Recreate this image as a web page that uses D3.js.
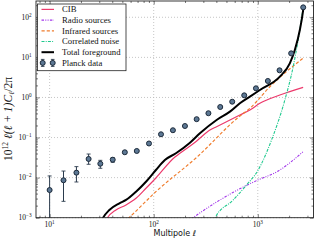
<!DOCTYPE html>
<html>
<head>
<meta charset="utf-8">
<script src="https://cdn.jsdelivr.net/npm/d3@7"></script>
<style>
body { margin: 0; background: #fff; }
svg text { font-family: "Liberation Serif", "DejaVu Serif", serif; fill: #111; }
</style>
</head>
<body>
<div id="chart"></div>
<script>
// planck band powers
var planckEll = [10, 13.6, 18.1, 23.7, 30.7, 40.4, 52.8, 68.8, 90.1, 117.5, 153, 199.6, 258.6, 335.5, 435.8, 568, 741, 960, 1250, 1618, 2093, 2731];
var planckVal = [0.0049, 0.0086, 0.0133, 0.0292, 0.0222, 0.028, 0.0429, 0.0462, 0.071, 0.1205, 0.152, 0.194, 0.287, 0.404, 0.578, 0.783, 1.13, 1.69, 2.58, 4.76, 12.6, 177];
var planckLo = [0.0001, 0.00256, 0.00778, 0.0215, 0.0171, 0.0241, 0.040, 0.043, 0.067, 0.115, 0.146, 0.187, 0.278, 0.393, 0.565, 0.767, 1.11, 1.66, 2.54, 4.69, 12.4, 174];
var planckHi = [0.011, 0.0146, 0.0188, 0.0388, 0.027, 0.0314, 0.046, 0.049, 0.075, 0.126, 0.158, 0.201, 0.296, 0.415, 0.591, 0.799, 1.15, 1.72, 2.62, 4.83, 12.8, 180];

// model curves
var totalEll = [31.2, 32.4, 37.5, 46.8, 54.2, 67.6, 84.3, 105, 128, 163.5, 223, 278, 402, 540, 673, 840, 1047, 1629, 2031, 2269, 2535, 2728, 2750];
var totalVal = [0.0008, 0.00097, 0.00156, 0.00229, 0.00277, 0.00446, 0.0079, 0.0155, 0.0275, 0.0405, 0.0743, 0.1276, 0.274, 0.442, 0.714, 1.045, 1.535, 3.30, 7.11, 15.3, 48.2, 152, 180];

var cibEll = [34.1, 35.6, 43.4, 54.2, 67.6, 84.3, 105, 160, 178.6, 258.8, 347, 402, 540, 673, 840, 1047, 1629, 2728];
var cibVal = [0.0008, 0.00097, 0.00156, 0.00208, 0.00305, 0.00542, 0.0098, 0.0327, 0.0405, 0.082, 0.154, 0.186, 0.274, 0.365, 0.486, 0.714, 1.15, 1.79];

var radioEll = [220, 289, 581, 1009, 1514, 2728];
var radioVal = [0.00086, 0.00141, 0.0043, 0.0088, 0.0138, 0.0444];

var irEll = [51.9, 58.3, 105, 258.8, 673, 840, 1306, 2786];
var irVal = [0.00078, 0.00102, 0.00446, 0.0321, 0.344, 0.537, 1.85, 10.0];

var noiseEll = [374, 387, 581, 780, 1009, 1356, 1820, 2188, 2444, 2710];
var noiseVal = [0.00079, 0.00097, 0.00277, 0.00655, 0.0155, 0.0869, 0.865, 5.85, 27.2, 152];

var xMajor = [10, 100, 1000];
var xMajorExp = ["1", "2", "3"];
var yMajor = [1e-3, 1e-2, 1e-1, 1, 10, 100];
var yMajorExp = ["\u22123", "\u22122", "\u22121", "0", "1", "2"];

var legendNames = ["CIB", "Radio sources", "Infrared sources", "Correlated noise", "Total foreground", "Planck data"];

var width = 316, height = 240;
var pLeft = 36, pRight = 313.5, pTop = 1, pBottom = 217.7;

var svg = d3.select("#chart").append("svg")
    .attr("width", width).attr("height", height);

var xChart = d3.scaleLog().domain([7.4, 3430]).range([pLeft, pRight]);
var yChart = d3.scaleLog().domain([1e-3, 255]).range([pBottom, pTop]);

svg.append("clipPath").attr("id", "clip")
  .append("rect").attr("x", pLeft).attr("y", pTop)
  .attr("width", pRight - pLeft).attr("height", pBottom - pTop);

// grid
var grid = svg.append("g");
xMajor.forEach(function(v) {
  grid.append("line").attr("x1", xChart(v)).attr("x2", xChart(v))
    .attr("y1", pTop).attr("y2", pBottom)
    .attr("stroke", "#b8b8b8").attr("stroke-width", 0.8).attr("stroke-dasharray", "1,2");
});
yMajor.forEach(function(v) {
  grid.append("line").attr("y1", yChart(v)).attr("y2", yChart(v))
    .attr("x1", pLeft).attr("x2", pRight)
    .attr("stroke", "#b8b8b8").attr("stroke-width", 0.8).attr("stroke-dasharray", "1,2");
});

// minor ticks
function minors(domain) {
  var out = [];
  var lo = Math.floor(Math.log10(domain[0])), hi = Math.ceil(Math.log10(domain[1]));
  for (var e = lo; e <= hi; e++) {
    for (var m = 2; m <= 9; m++) {
      var v = m * Math.pow(10, e);
      if (v >= domain[0] && v <= domain[1]) out.push(v);
    }
  }
  return out;
}
var xMinor = minors(xChart.domain());
var yMinor = minors(yChart.domain());

function axisSet(axisFn, scale, values, size, tx, ty) {
  svg.append("g")
    .attr("transform", "translate(" + tx + "," + ty + ")")
    .call(axisFn(scale).tickValues(values).tickSize(size).tickFormat(""))
    .call(function(g) {
      g.select(".domain").remove();
      g.selectAll("line").attr("stroke", "#222").attr("stroke-width", 0.6);
    });
}
axisSet(d3.axisBottom, xChart, xMajor, -3.5, 0, pBottom);
axisSet(d3.axisBottom, xChart, xMinor, -2, 0, pBottom);
axisSet(d3.axisTop, xChart, xMajor, -3.5, 0, pTop);
axisSet(d3.axisTop, xChart, xMinor, -2, 0, pTop);
axisSet(d3.axisLeft, yChart, yMajor, -3.5, pLeft, 0);
axisSet(d3.axisLeft, yChart, yMinor, -2, pLeft, 0);
axisSet(d3.axisRight, yChart, yMajor, -3.5, pRight, 0);
axisSet(d3.axisRight, yChart, yMinor, -2, pRight, 0);

// tick labels
xMajor.forEach(function(v, i) {
  var t = svg.append("text").attr("x", xChart(v)).attr("y", 226.5)
    .attr("text-anchor", "middle").style("font-size", "7.5px");
  t.append("tspan").text("10");
  t.append("tspan").attr("dy", -3).style("font-size", "5.2px").text(xMajorExp[i]);
});
yMajor.forEach(function(v, i) {
  var t = svg.append("text").attr("x", 31.5).attr("y", yChart(v) + 2.6)
    .attr("text-anchor", "end").style("font-size", "7.5px");
  t.append("tspan").text("10");
  t.append("tspan").attr("dy", -3).style("font-size", "5.2px").text(yMajorExp[i]);
});

// curves
var plot = svg.append("g").attr("clip-path", "url(#clip)");
var line = d3.line()
  .x(function(d) { return xChart(d[0]); })
  .y(function(d) { return yChart(d[1]); })
  .curve(d3.curveMonotoneX);

var styles = [
  {ell: cibEll, val: cibVal, color: "#ec3a6c", w: 1.2, dash: null},
  {ell: radioEll, val: radioVal, color: "#a236ea", w: 1.1, dash: "2.5,1.3,1,1.3,1,1.3"},
  {ell: irEll, val: irVal, color: "#f07d2e", w: 1.2, dash: "3.2,2"},
  {ell: noiseEll, val: noiseVal, color: "#1fc98e", w: 1.1, dash: "3,1.2,1,1.2"},
  {ell: totalEll, val: totalVal, color: "#000", w: 2, dash: null}
];
styles.forEach(function(s) {
  plot.append("path")
    .datum(d3.zip(s.ell, s.val))
    .attr("d", line)
    .attr("fill", "none")
    .attr("stroke", s.color)
    .attr("stroke-width", s.w)
    .attr("stroke-dasharray", s.dash);
});

// planck points
var errColor = "#2b3b4d";
planckEll.forEach(function(l, i) {
  var px = xChart(l);
  plot.append("line").attr("x1", px).attr("x2", px)
    .attr("y1", yChart(planckLo[i])).attr("y2", yChart(planckHi[i]))
    .attr("stroke", errColor).attr("stroke-width", 1);
  [planckLo[i], planckHi[i]].forEach(function(e) {
    plot.append("line").attr("x1", px - 2).attr("x2", px + 2)
      .attr("y1", yChart(e)).attr("y2", yChart(e))
      .attr("stroke", errColor).attr("stroke-width", 0.9);
  });
});
plot.selectAll(".pt").data(d3.zip(planckEll, planckVal)).enter()
  .append("circle").attr("class", "pt")
  .attr("cx", function(d) { return xChart(d[0]); })
  .attr("cy", function(d) { return yChart(d[1]); })
  .attr("r", 2.5)
  .attr("fill", "#5d7894").attr("stroke", "#1d2b3b").attr("stroke-width", 1);

// frame
svg.append("rect").attr("x", pLeft).attr("y", pTop)
  .attr("width", pRight - pLeft).attr("height", pBottom - pTop)
  .attr("fill", "none").attr("stroke", "#222").attr("stroke-width", 0.9);

// legend
var lg = svg.append("g");
lg.append("rect").attr("x", 37.5).attr("y", 4).attr("width", 88.5).attr("height", 66.7)
  .attr("fill", "#fff").attr("stroke", "#222").attr("stroke-width", 0.8);
legendNames.forEach(function(name, i) {
  var ly = 9.4 + i * 10.7;
  if (i < 5) {
    var s = styles[i];
    lg.append("line").attr("x1", 41.5).attr("x2", 54).attr("y1", ly).attr("y2", ly)
      .attr("stroke", s.color).attr("stroke-width", s.w).attr("stroke-dasharray", s.dash);
  } else {
    [42.7, 52.7].forEach(function(mx) {
      lg.append("line").attr("x1", mx).attr("x2", mx).attr("y1", ly - 3.5).attr("y2", ly + 3.5)
        .attr("stroke", errColor).attr("stroke-width", 1);
      [ly - 3.5, ly + 3.5].forEach(function(cy) {
        lg.append("line").attr("x1", mx - 1.8).attr("x2", mx + 1.8).attr("y1", cy).attr("y2", cy)
          .attr("stroke", errColor).attr("stroke-width", 0.9);
      });
      lg.append("circle").attr("cx", mx).attr("cy", ly).attr("r", 2.5)
        .attr("fill", "#5d7894").attr("stroke", "#1d2b3b").attr("stroke-width", 1);
    });
  }
  lg.append("text").attr("x", 62).attr("y", ly + 2.9).style("font-size", "8.7px").text(name);
});

// axis labels
svg.append("text").attr("x", (pLeft + pRight) / 2).attr("y", 236)
  .attr("text-anchor", "middle")
  .style("font-family", "'DejaVu Sans', sans-serif").style("font-size", "8px")
  .text("Multipole \u2113");

var yl = svg.append("text")
  .attr("transform", "translate(12,119) rotate(-90)")
  .attr("text-anchor", "middle").style("font-size", "11.5px");
yl.append("tspan").text("10");
yl.append("tspan").attr("dy", -4.5).style("font-size", "7.5px").text("12");
yl.append("tspan").attr("dy", 4.5).style("font-style", "italic").text(" \u2113(\u2113 + 1)C");
yl.append("tspan").attr("dy", 2.2).style("font-size", "7.5px").style("font-style", "italic").text("\u2113");
yl.append("tspan").attr("dy", -2.2).text("/2\u03c0");
</script>
</body>
</html>
